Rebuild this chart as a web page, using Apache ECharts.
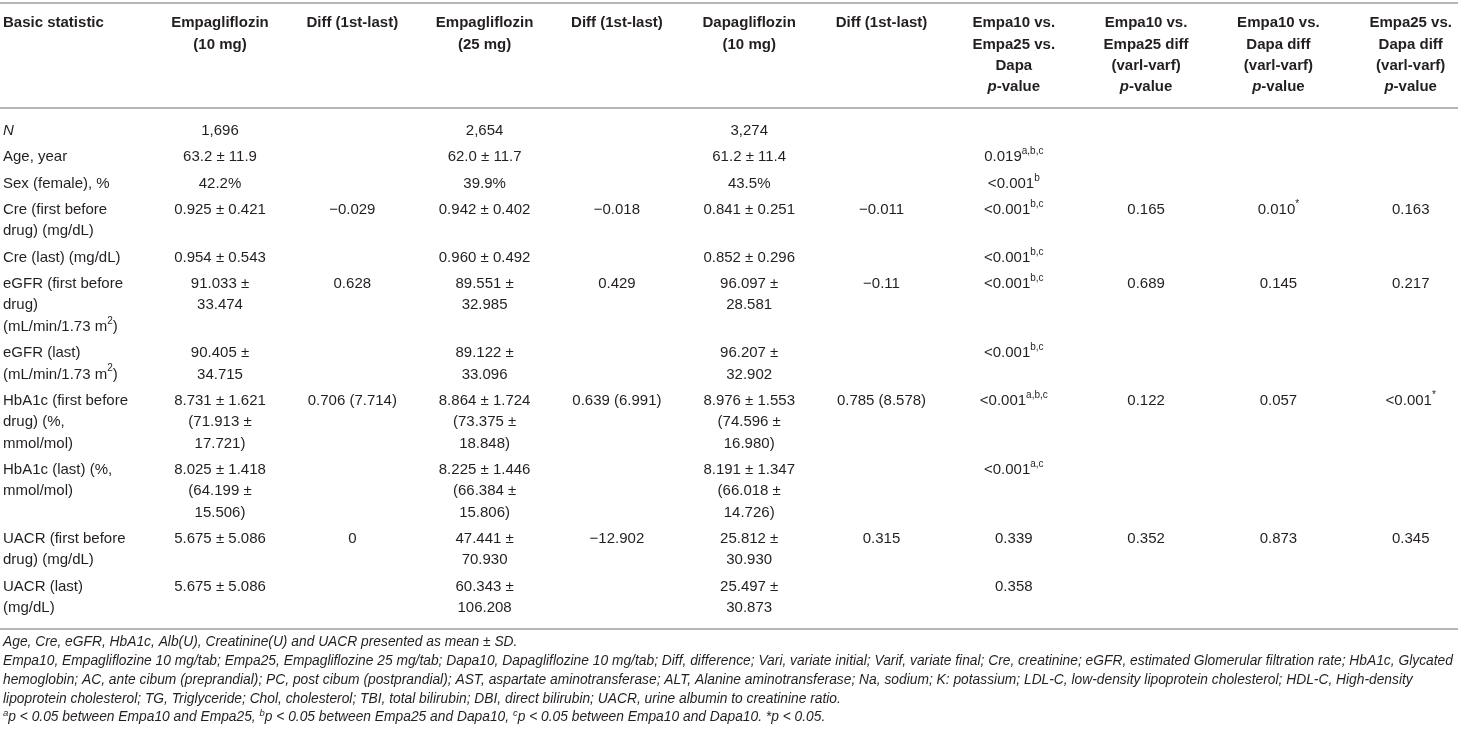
<!DOCTYPE html>
<html>
<head>
<meta charset="utf-8">
<script src="https://cdn.jsdelivr.net/npm/echarts@6/dist/echarts.min.js"></script>
<style>
html,body{margin:0;padding:0;background:#ffffff;}
#chart{width:1458px;height:737px;}
</style>
</head>
<body>
<div id="chart"></div>
<script>
// ---------- table content ----------
const headers = [
  'Basic statistic',
  'Empagliflozin\n(10 mg)',
  'Diff (1st-last)',
  'Empagliflozin\n(25 mg)',
  'Diff (1st-last)',
  'Dapagliflozin\n(10 mg)',
  'Diff (1st-last)',
  'Empa10 vs.\nEmpa25 vs.\nDapa\n{bi|p}-value',
  'Empa10 vs.\nEmpa25 diff\n(varl-varf)\n{bi|p}-value',
  'Empa10 vs.\nDapa diff\n(varl-varf)\n{bi|p}-value',
  'Empa25 vs.\nDapa diff\n(varl-varf)\n{bi|p}-value'
];
const rowLabels = [
  '{it|N}',
  'Age, year',
  'Sex (female), %',
  'Cre (first before\ndrug) (mg/dL)',
  'Cre (last) (mg/dL)',
  'eGFR (first before\ndrug)\n(mL/min/1.73 m{sup|2})',
  'eGFR (last)\n(mL/min/1.73 m{sup|2})',
  'HbA1c (first before\ndrug) (%,\nmmol/mol)',
  'HbA1c (last) (%,\nmmol/mol)',
  'UACR (first before\ndrug) (mg/dL)',
  'UACR (last)\n(mg/dL)'
];
const empa10 = ['1,696', '63.2 ± 11.9', '42.2%', '0.925 ± 0.421', '0.954 ± 0.543',
  '91.033 ±\n33.474', '90.405 ±\n34.715', '8.731 ± 1.621\n(71.913 ±\n17.721)',
  '8.025 ± 1.418\n(64.199 ±\n15.506)', '5.675 ± 5.086', '5.675 ± 5.086'];
const diffEmpa10 = ['', '', '', '−0.029', '', '0.628', '', '0.706 (7.714)', '', '0', ''];
const empa25 = ['2,654', '62.0 ± 11.7', '39.9%', '0.942 ± 0.402', '0.960 ± 0.492',
  '89.551 ±\n32.985', '89.122 ±\n33.096', '8.864 ± 1.724\n(73.375 ±\n18.848)',
  '8.225 ± 1.446\n(66.384 ±\n15.806)', '47.441 ±\n70.930', '60.343 ±\n106.208'];
const diffEmpa25 = ['', '', '', '−0.018', '', '0.429', '', '0.639 (6.991)', '', '−12.902', ''];
const dapa10 = ['3,274', '61.2 ± 11.4', '43.5%', '0.841 ± 0.251', '0.852 ± 0.296',
  '96.097 ±\n28.581', '96.207 ±\n32.902', '8.976 ± 1.553\n(74.596 ±\n16.980)',
  '8.191 ± 1.347\n(66.018 ±\n14.726)', '25.812 ±\n30.930', '25.497 ±\n30.873'];
const diffDapa10 = ['', '', '', '−0.011', '', '−0.11', '', '0.785 (8.578)', '', '0.315', ''];
const pAll = ['', '0.019{sup|a,b,c}', '<0.001{sup|b}', '<0.001{sup|b,c}', '<0.001{sup|b,c}',
  '<0.001{sup|b,c}', '<0.001{sup|b,c}', '<0.001{sup|a,b,c}', '<0.001{sup|a,c}', '0.339', '0.358'];
const pEmpa10Empa25 = ['', '', '', '0.165', '', '0.689', '', '0.122', '', '0.352', ''];
const pEmpa10Dapa = ['', '', '', '0.010{sup|*}', '', '0.145', '', '0.057', '', '0.873', ''];
const pEmpa25Dapa = ['', '', '', '0.163', '', '0.217', '', '<0.001{sup|*}', '', '0.345', ''];
const footnotes = [
  'Age, Cre, eGFR, HbA1c, Alb(U), Creatinine(U) and UACR presented as mean ± SD.',
  'Empa10, Empagliflozine 10 mg/tab; Empa25, Empagliflozine 25 mg/tab; Dapa10, Dapagliflozine 10 mg/tab; Diff, difference; Vari, variate initial; Varif, variate final; Cre, creatinine; eGFR, estimated Glomerular filtration rate; HbA1c, Glycated',
  'hemoglobin; AC, ante cibum (preprandial); PC, post cibum (postprandial); AST, aspartate aminotransferase; ALT, Alanine aminotransferase; Na, sodium; K: potassium; LDL-C, low-density lipoprotein cholesterol; HDL-C, High-density',
  'lipoprotein cholesterol; TG, Triglyceride; Chol, cholesterol; TBI, total bilirubin; DBI, direct bilirubin; UACR, urine albumin to creatinine ratio.',
  '{fsup|a}p < 0.05 between Empa10 and Empa25, {fsup|b}p < 0.05 between Empa25 and Dapa10, {fsup|c}p < 0.05 between Empa10 and Dapa10. *p < 0.05.'
];
const columns = [rowLabels, empa10, diffEmpa10, empa25, diffEmpa25, dapa10, diffDapa10,
  pAll, pEmpa10Empa25, pEmpa10Dapa, pEmpa25Dapa];

// ---------- layout (styles only) ----------
const W = 1458, H = 737;
const FONT = "'Liberation Sans', Arial, Helvetica, sans-serif";
const COLOR = '#231f20';
const RULE = '#9e9e9e';
const LINE = 21.4, GAP = 4.9, FN_LINE = 18.85;
const BODY_SIZE = 15, FN_SIZE = 13.8;
const COL_STEP = 132.3, FIRST_COL_CENTER = 220;

const lines = s => s.split('\n').length;
const cells = [];
let y = 3;
const rules = [y];
const headTop = y + 9.3;
headers.forEach((t, c) => cells.push({ value: [c, headTop], text: t, kind: 'head' }));
y = headTop + Math.max(...headers.map(lines)) * LINE + 10.1;
rules.push(y);
let rowTop = y + 12.3;
rowLabels.forEach((lab, r) => {
  const n = Math.max(...columns.map(col => lines(col[r])));
  columns.forEach((col, c) => {
    if (col[r] !== '') cells.push({ value: [c, rowTop], text: col[r], kind: 'body' });
  });
  rowTop += n * LINE + (r < rowLabels.length - 1 ? GAP : 0);
});
y = rowTop + 10.4;
rules.push(y);
cells.push({ value: [0, y + 3.6], text: footnotes.join('\n'), kind: 'foot' });

function richFor(kind) {
  const size = kind === 'foot' ? FN_SIZE : BODY_SIZE;
  const lh = kind === 'foot' ? FN_LINE : LINE;
  const italic = kind === 'foot' ? 'italic' : 'normal';
  const weight = kind === 'head' ? 'bold' : 'normal';
  return {
    it: { fontFamily: FONT, fontSize: size, fontStyle: 'italic', fontWeight: weight, lineHeight: lh, fill: COLOR },
    bi: { fontFamily: FONT, fontSize: size, fontStyle: 'italic', fontWeight: 'bold', lineHeight: lh, fill: COLOR },
    sup: { fontFamily: FONT, fontSize: 10, fontStyle: italic, fontWeight: weight, lineHeight: 12, verticalAlign: 'top', fill: COLOR },
    fsup: { fontFamily: FONT, fontSize: 9.5, fontStyle: 'italic', lineHeight: 11, verticalAlign: 'top', fill: COLOR }
  };
}

const xMin = 1 - FIRST_COL_CENTER / COL_STEP;
const xMax = xMin + W / COL_STEP;

const chart = echarts.init(document.getElementById('chart'), null, { renderer: 'canvas' });
chart.setOption({
  animation: false,
  backgroundColor: '#ffffff',
  grid: { left: 0, right: 0, top: 0, bottom: 0, containLabel: false },
  xAxis: { type: 'value', min: xMin, max: xMax, show: false },
  yAxis: { type: 'value', min: 0, max: H, inverse: true, show: false },
  series: [{
    type: 'custom',
    coordinateSystem: 'cartesian2d',
    silent: true,
    data: cells.map(d => d.value),
    renderItem: function (params, api) {
      const cell = cells[params.dataIndex];
      const col = api.value(0);
      const pt = api.coord([col, api.value(1)]);
      const left = col === 0;
      const size = cell.kind === 'foot' ? FN_SIZE : BODY_SIZE;
      return {
        type: 'text',
        x: left ? params.coordSys.x + 3 : pt[0],
        y: pt[1],
        style: {
          text: cell.text,
          fontFamily: FONT,
          fontSize: size,
          fontWeight: cell.kind === 'head' ? 'bold' : 'normal',
          fontStyle: cell.kind === 'foot' ? 'italic' : 'normal',
          lineHeight: cell.kind === 'foot' ? FN_LINE : LINE,
          fill: COLOR,
          align: left ? 'left' : 'center',
          verticalAlign: 'top',
          rich: richFor(cell.kind)
        }
      };
    },
    markLine: {
      silent: true,
      symbol: 'none',
      label: { show: false },
      lineStyle: { color: RULE, width: 1.6, type: 'solid' },
      data: rules.map(v => ({ yAxis: v }))
    }
  }]
});
</script>
</body>
</html>
